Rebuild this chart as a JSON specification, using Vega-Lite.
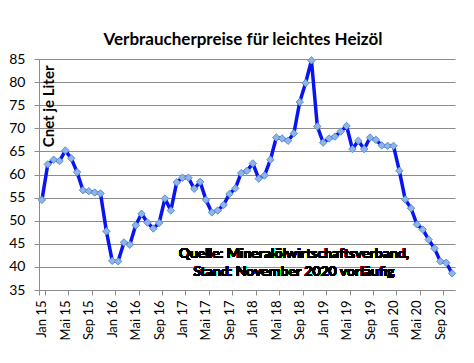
{
  "$schema": "https://vega.github.io/schema/vega-lite/v6.json",
  "autosize": "none",
  "width": 416,
  "height": 231,
  "padding": {"left": 39, "top": 59, "right": 19, "bottom": 73},
  "background": "white",
  "config": {
    "font": "Lato",
    "view": {"stroke": null}
  },
  "title": {
    "text": "Verbraucherpreise für leichtes Heizöl",
    "fontSize": 17,
    "fontWeight": "bold",
    "font": "Lato",
    "color": "black",
    "anchor": "middle",
    "dx": -4,
    "offset": 3
  },
  "data": {
    "values": [
      {"m": "Jan 15", "p": 54.5}, {"m": "Feb 15", "p": 62.2}, {"m": "Mär 15", "p": 63.2}, {"m": "Apr 15", "p": 62.9},
      {"m": "Mai 15", "p": 65.2}, {"m": "Jun 15", "p": 63.5}, {"m": "Jul 15", "p": 60.5}, {"m": "Aug 15", "p": 56.6},
      {"m": "Sep 15", "p": 56.4}, {"m": "Okt 15", "p": 56.1}, {"m": "Nov 15", "p": 55.9}, {"m": "Dez 15", "p": 47.7},
      {"m": "Jan 16", "p": 41.3}, {"m": "Feb 16", "p": 41.2}, {"m": "Mär 16", "p": 45.3}, {"m": "Apr 16", "p": 44.8},
      {"m": "Mai 16", "p": 49.0}, {"m": "Jun 16", "p": 51.5}, {"m": "Jul 16", "p": 49.6}, {"m": "Aug 16", "p": 48.3},
      {"m": "Sep 16", "p": 49.5}, {"m": "Okt 16", "p": 54.8}, {"m": "Nov 16", "p": 52.2}, {"m": "Dez 16", "p": 58.3},
      {"m": "Jan 17", "p": 59.3}, {"m": "Feb 17", "p": 59.3}, {"m": "Mär 17", "p": 56.9}, {"m": "Apr 17", "p": 58.4},
      {"m": "Mai 17", "p": 54.5}, {"m": "Jun 17", "p": 51.8}, {"m": "Jul 17", "p": 52.2}, {"m": "Aug 17", "p": 53.4},
      {"m": "Sep 17", "p": 55.8}, {"m": "Okt 17", "p": 57.0}, {"m": "Nov 17", "p": 60.3}, {"m": "Dez 17", "p": 60.8},
      {"m": "Jan 18", "p": 62.4}, {"m": "Feb 18", "p": 59.1}, {"m": "Mär 18", "p": 59.8}, {"m": "Apr 18", "p": 63.2},
      {"m": "Mai 18", "p": 68.0}, {"m": "Jun 18", "p": 67.8}, {"m": "Jul 18", "p": 67.3}, {"m": "Aug 18", "p": 68.9},
      {"m": "Sep 18", "p": 75.7}, {"m": "Okt 18", "p": 79.8}, {"m": "Nov 18", "p": 84.7}, {"m": "Dez 18", "p": 70.4},
      {"m": "Jan 19", "p": 66.9}, {"m": "Feb 19", "p": 67.8}, {"m": "Mär 19", "p": 68.2}, {"m": "Apr 19", "p": 69.3},
      {"m": "Mai 19", "p": 70.5}, {"m": "Jun 19", "p": 65.5}, {"m": "Jul 19", "p": 67.3}, {"m": "Aug 19", "p": 65.5},
      {"m": "Sep 19", "p": 68.0}, {"m": "Okt 19", "p": 67.5}, {"m": "Nov 19", "p": 66.3}, {"m": "Dez 19", "p": 66.2},
      {"m": "Jan 20", "p": 66.2}, {"m": "Feb 20", "p": 60.8}, {"m": "Mär 20", "p": 54.6}, {"m": "Apr 20", "p": 52.7},
      {"m": "Mai 20", "p": 49.2}, {"m": "Jun 20", "p": 48.1}, {"m": "Jul 20", "p": 45.9}, {"m": "Aug 20", "p": 44.0},
      {"m": "Sep 20", "p": 41.2}, {"m": "Okt 20", "p": 40.9}, {"m": "Nov 20", "p": 38.6}
    ]
  },
  "encoding": {
    "x": {
      "field": "m",
      "type": "ordinal",
      "sort": null,
      "scale": {"type": "band", "paddingInner": 0, "paddingOuter": 0},
      "axis": {
        "title": null,
        "values": ["Jan 15", "Mai 15", "Sep 15", "Jan 16", "Mai 16", "Sep 16", "Jan 17", "Mai 17", "Sep 17", "Jan 18", "Mai 18", "Sep 18", "Jan 19", "Mai 19", "Sep 19", "Jan 20", "Mai 20", "Sep 20"],
        "labelAngle": -90,
        "labelAlign": "right",
        "labelBaseline": "middle",
        "labelFontSize": 13,
        "labelColor": "black",
        "labelPadding": 5,
        "tickBand": "extent",
        "tickSize": 5,
        "tickColor": "#8c8c8c",
        "domainColor": "#8c8c8c",
        "grid": false
      }
    },
    "y": {
      "field": "p",
      "type": "quantitative",
      "scale": {"domain": [35, 85], "nice": false, "zero": false},
      "axis": {
        "values": [35, 40, 45, 50, 55, 60, 65, 70, 75, 80, 85],
        "title": "Cnet je Liter",
        "titleAngle": 270,
        "titleX": 9,
        "titleY": 6,
        "titleAlign": "right",
        "titleBaseline": "middle",
        "titleFontSize": 15,
        "titleFontWeight": "bold",
        "titleColor": "black",
        "labelFontSize": 14,
        "labelColor": "black",
        "labelPadding": 9,
        "tickSize": 5,
        "tickColor": "#8c8c8c",
        "domainColor": "#8c8c8c",
        "gridColor": "#8c8c8c",
        "gridWidth": 1
      }
    }
  },
  "layer": [
    {
      "mark": {"type": "line", "color": "#0814f2", "strokeWidth": 3.5, "strokeJoin": "round"},
      "encoding": {"x": {"field": "m", "type": "ordinal", "sort": null, "bandPosition": 0.5}}
    },
    {
      "mark": {"type": "point", "shape": "diamond", "filled": true, "fill": "#8fb4e8", "stroke": "#5b8fd6", "strokeWidth": 1, "size": 55, "opacity": 1},
      "encoding": {"x": {"field": "m", "type": "ordinal", "sort": null, "bandPosition": 0.5}}
    },
    {
      "mark": {"type": "text", "text": ["Quelle: Mineralölwirtschaftsverband,", "Stand: November 2020 vorläufig"], "fontSize": 14, "fontWeight": "bold", "font": "Lato", "color": "black", "align": "center", "baseline": "middle", "lineHeight": 18},
      "encoding": {
        "x": {"datum": "Aug 18", "type": "ordinal", "bandPosition": 0.5},
        "y": {"datum": 42.8, "type": "quantitative"}
      }
    }
  ]
}
